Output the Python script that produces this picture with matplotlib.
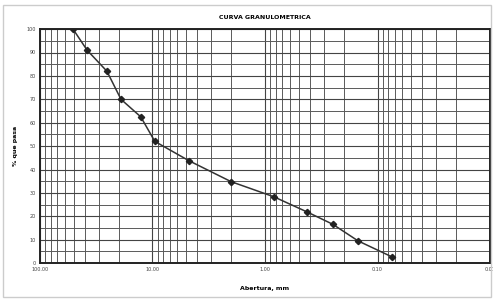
import numpy as np
import matplotlib.pyplot as plt
from matplotlib.ticker import FixedLocator, LogLocator, NullFormatter, FixedFormatter
from matplotlib.patches import Rectangle

# sieve openings (mm) and percent passing
abertura = [50.8, 38.1, 25.4, 19.05, 12.7, 9.525, 4.76, 2.0, 0.84, 0.42, 0.25, 0.149, 0.074]
pasa = [100, 91, 82, 70, 62.5, 52, 43.8, 34.8, 28.4, 21.8, 16.6, 9.5, 2.6]

x_ticks = [100, 10, 1, 0.1, 0.01]
x_labels = ["100.00", "10.00", "1.00", "0.10", "0.01"]
y_ticks = list(range(0, 101, 10))

fig = plt.figure(figsize=(4.93, 3.0), dpi=100)
ax = fig.add_axes([0.081, 0.123, 0.913, 0.78])

ax.set_xscale("log")
ax.set_xlim(100, 0.01)
ax.set_ylim(0, 100)

ax.xaxis.set_major_locator(FixedLocator(x_ticks))
ax.xaxis.set_major_formatter(FixedFormatter(x_labels))
ax.xaxis.set_minor_locator(LogLocator(base=10, subs=np.arange(2, 10)))
ax.xaxis.set_minor_formatter(NullFormatter())
ax.yaxis.set_major_locator(FixedLocator(y_ticks))
ax.yaxis.set_minor_locator(FixedLocator(list(range(5, 100, 10))))

ax.grid(True, which="major", color="#444444", linewidth=0.8)
ax.grid(True, which="minor", color="#5a5a5a", linewidth=0.7)
ax.tick_params(which="both", length=0, labelsize=3.5, colors="#444444", pad=3)

for s in ax.spines.values():
    s.set_linewidth(1.4)
    s.set_color("#222222")

ax.plot(abertura, pasa, color="#333333", linewidth=1.1, marker="D",
        markersize=3.2, markerfacecolor="#222222", markeredgecolor="#222222", zorder=3)

ax.set_title("CURVA GRANULOMETRICA", fontsize=4.5, fontweight="bold", pad=7)
ax.set_xlabel("Abertura, mm", fontsize=4.5, fontweight="bold", labelpad=10)
ax.set_ylabel("% que pasa", fontsize=4.5, fontweight="bold", labelpad=6)

fig.patches.append(Rectangle((0.006, 0.01), 0.99, 0.975, transform=fig.transFigure,
                             fill=False, edgecolor="#cccccc", linewidth=1.0))

fig.savefig("out.png", dpi=100)
